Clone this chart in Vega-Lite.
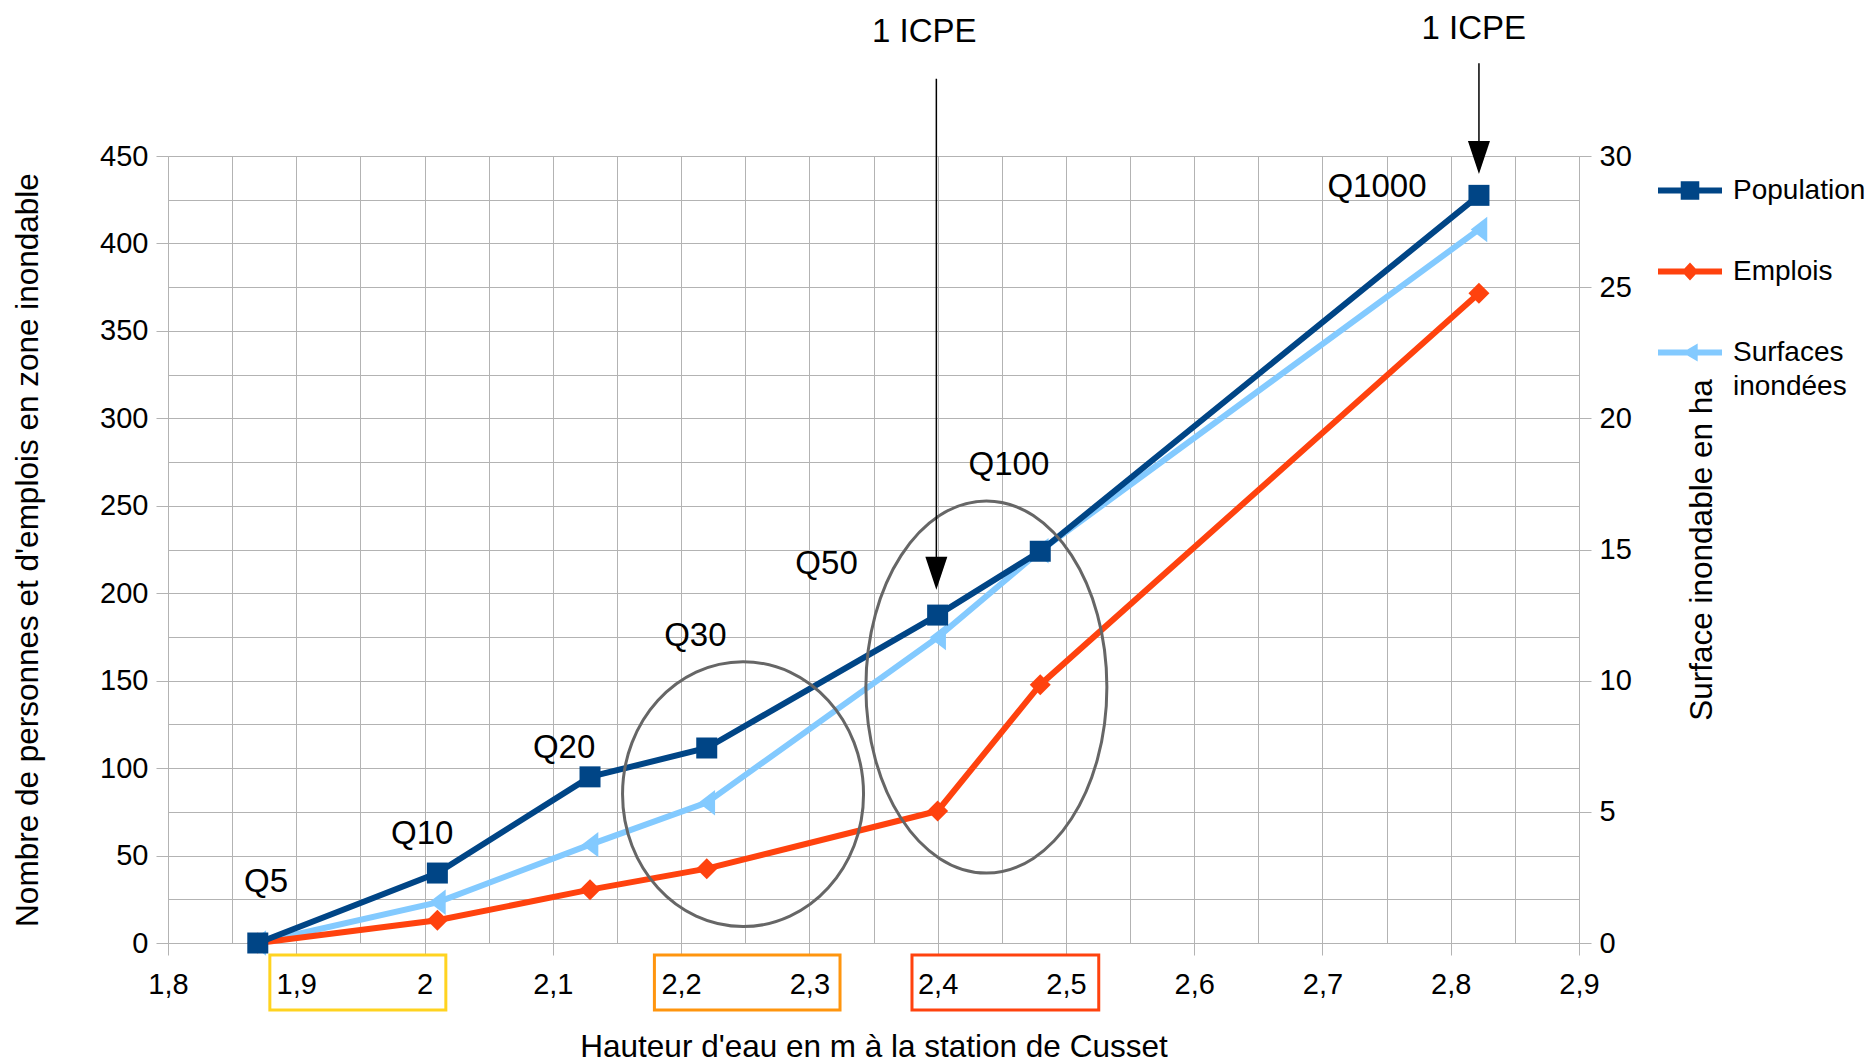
{
  "$schema": "https://vega.github.io/schema/vega-lite/v6.json",
  "width": 1411,
  "height": 787,
  "autosize": {"type": "none"},
  "padding": {"left": 168, "top": 156, "right": 291, "bottom": 121},
  "background": "white",
  "config": {
    "font": "Liberation Sans",
    "view": {"stroke": null},
    "text": {"font": "Liberation Sans", "color": "black"}
  },
  "datasets": {
    "series": [
      {"h": 1.870, "serie": "Population", "v": 0},
      {"h": 2.010, "serie": "Population", "v": 40},
      {"h": 2.129, "serie": "Population", "v": 95},
      {"h": 2.220, "serie": "Population", "v": 111.5},
      {"h": 2.400, "serie": "Population", "v": 187.5},
      {"h": 2.480, "serie": "Population", "v": 224},
      {"h": 2.822, "serie": "Population", "v": 427.5},
      {"h": 1.870, "serie": "Emplois", "v": 0},
      {"h": 2.010, "serie": "Emplois", "v": 13},
      {"h": 2.129, "serie": "Emplois", "v": 30.5},
      {"h": 2.220, "serie": "Emplois", "v": 42.5},
      {"h": 2.400, "serie": "Emplois", "v": 75.5},
      {"h": 2.480, "serie": "Emplois", "v": 147.7},
      {"h": 2.822, "serie": "Emplois", "v": 371.5},
      {"h": 1.870, "serie": "Surfaces inondées", "v": 0},
      {"h": 2.010, "serie": "Surfaces inondées", "v": 1.55},
      {"h": 2.129, "serie": "Surfaces inondées", "v": 3.75},
      {"h": 2.220, "serie": "Surfaces inondées", "v": 5.35},
      {"h": 2.400, "serie": "Surfaces inondées", "v": 11.65},
      {"h": 2.480, "serie": "Surfaces inondées", "v": 14.95},
      {"h": 2.822, "serie": "Surfaces inondées", "v": 27.2}
    ],
    "qlabels": [
      {"h": 1.8764, "v": 34.6, "q": "Q5"},
      {"h": 1.9982, "v": 62.5, "q": "Q10"},
      {"h": 2.1088, "v": 111.6, "q": "Q20"},
      {"h": 2.2111, "v": 175.7, "q": "Q30"},
      {"h": 2.3134, "v": 216.7, "q": "Q50"},
      {"h": 2.4556, "v": 273.3, "q": "Q100"},
      {"h": 2.7425, "v": 432.2, "q": "Q1000"}
    ],
    "icpe": [
      {"h": 2.3896, "v": 520.8, "t": "1 ICPE"},
      {"h": 2.818, "v": 522.8, "t": "1 ICPE"}
    ],
    "arrows": [
      {"h": 2.399, "top": 494.2, "head": 211.4},
      {"h": 2.822, "top": 503, "head": 449.2}
    ],
    "ellipses": [
      {"h": 2.2483, "v": 85.1, "id": "e1"},
      {"h": 2.438, "v": 146.4, "id": "e2"}
    ],
    "boxes": [
      {"x1": 1.8794, "x2": 2.0166, "y1": -6.9, "y2": -38.3, "zone": "A"},
      {"x1": 2.1792, "x2": 2.3239, "y1": -6.9, "y2": -38.3, "zone": "B"},
      {"x1": 2.3800, "x2": 2.5256, "y1": -6.9, "y2": -38.3, "zone": "C"}
    ]
  },
  "layer": [
    {
      "data": {"name": "series"},
      "transform": [{"filter": "datum.serie === 'Surfaces inondées'"}],
      "layer": [
        {
          "mark": {"type": "line", "strokeWidth": 6, "color": "#83caff"},
          "encoding": {
            "x": {"field": "h", "type": "quantitative", "scale": {"domain": [1.8, 2.9], "nice": false, "zero": false}},
            "y": {
              "field": "v", "type": "quantitative",
              "scale": {"domain": [0, 30], "nice": false, "zero": true},
              "axis": {
                "orient": "right",
                "values": [0, 5, 10, 15, 20, 25, 30],
                "grid": false,
                "domainColor": "#b3b3b3",
                "tickColor": "#b3b3b3",
                "tickSize": 12,
                "labelFontSize": 29,
                "labelColor": "black",
                "labelPadding": 8,
                "labelFont": "Liberation Sans",
                "title": "Surface inondable en ha",
                "titleFont": "Liberation Sans",
                "titleFontSize": 31.5,
                "titleFontWeight": "normal",
                "titleColor": "black",
                "titleAngle": 270,
                "titleBaseline": "top",
                "titlePadding": 55
              }
            }
          }
        },
        {
          "mark": {"type": "point", "filled": true, "opacity": 1, "size": 650, "color": "#83caff", "shape": "M -0.65 0 L 0.65 -1 L 0.65 1 Z"},
          "encoding": {
            "x": {"field": "h", "type": "quantitative"},
            "y": {"field": "v", "type": "quantitative"}
          }
        }
      ]
    },
    {
      "layer": [
        {
          "data": {"name": "series"},
          "transform": [{"filter": "datum.serie === 'Emplois'"}],
          "mark": {"type": "line", "strokeWidth": 6, "color": "#ff420e"},
          "encoding": {
            "x": {
              "field": "h", "type": "quantitative",
              "scale": {"domain": [1.8, 2.9], "nice": false, "zero": false},
              "axis": {
                "values": [1.8, 1.85, 1.9, 1.95, 2, 2.05, 2.1, 2.15, 2.2, 2.25, 2.3, 2.35, 2.4, 2.45, 2.5, 2.55, 2.6, 2.65, 2.7, 2.75, 2.8, 2.85, 2.9],
                "labelExpr": "round(datum.value*100) % 10 === 0 ? replace(format(datum.value, '.2~f'), '.', ',') : ''",
                "tickOpacity": {"condition": {"test": "round(datum.value*100) % 10 === 0", "value": 1}, "value": 0},
                "grid": true,
                "gridColor": "#b3b3b3",
                "gridWidth": 1,
                "domainColor": "#b3b3b3",
                "tickColor": "#b3b3b3",
                "tickSize": 12,
                "labelFlush": false,
                "labelOverlap": false,
                "labelFontSize": 29,
                "labelColor": "black",
                "labelPadding": 15,
                "labelFont": "Liberation Sans",
                "title": "Hauteur d'eau en m à la station de Cusset",
                "titleFont": "Liberation Sans",
                "titleFontSize": 31.5,
                "titleFontWeight": "normal",
                "titleColor": "black",
                "titlePadding": 32
              }
            },
            "y": {
              "field": "v", "type": "quantitative",
              "scale": {"domain": [0, 450], "nice": false, "zero": true},
              "axis": {
                "orient": "left",
                "values": [0, 25, 50, 75, 100, 125, 150, 175, 200, 225, 250, 275, 300, 325, 350, 375, 400, 425, 450],
                "labelExpr": "datum.value % 50 === 0 ? datum.label : ''",
                "tickOpacity": {"condition": {"test": "datum.value % 50 === 0", "value": 1}, "value": 0},
                "grid": true,
                "gridColor": "#b3b3b3",
                "gridWidth": 1,
                "domainColor": "#b3b3b3",
                "tickColor": "#b3b3b3",
                "tickSize": 12,
                "labelOverlap": false,
                "labelFontSize": 29,
                "labelColor": "black",
                "labelPadding": 8,
                "labelFont": "Liberation Sans",
                "title": "Nombre de personnes et d'emplois en zone inondable",
                "titleFont": "Liberation Sans",
                "titleFontSize": 31.5,
                "titleFontWeight": "normal",
                "titleColor": "black",
                "titlePadding": 55
              }
            }
          }
        },
        {
          "data": {"name": "series"},
          "transform": [{"filter": "datum.serie === 'Population'"}],
          "mark": {"type": "line", "strokeWidth": 6, "color": "#004586"},
          "encoding": {
            "x": {"field": "h", "type": "quantitative"},
            "y": {"field": "v", "type": "quantitative"}
          }
        },
        {
          "data": {"name": "series"},
          "transform": [{"filter": "datum.serie === 'Emplois'"}],
          "mark": {"type": "point", "filled": true, "opacity": 1, "size": 440, "shape": "diamond", "color": "#ff420e"},
          "encoding": {
            "x": {"field": "h", "type": "quantitative"},
            "y": {"field": "v", "type": "quantitative"}
          }
        },
        {
          "data": {"name": "series"},
          "transform": [{"filter": "datum.serie === 'Population'"}],
          "mark": {"type": "point", "filled": true, "opacity": 1, "size": 441, "shape": "square", "color": "#004586"},
          "encoding": {
            "x": {"field": "h", "type": "quantitative"},
            "y": {"field": "v", "type": "quantitative"}
          }
        },
        {
          "data": {"name": "series"},
          "mark": {"type": "point", "filled": true, "opacity": 1, "size": 0},
          "encoding": {
            "x": {"field": "h", "type": "quantitative"},
            "y": {"field": "v", "type": "quantitative"},
            "color": {
              "field": "serie", "type": "nominal",
              "scale": {"domain": ["Population", "Emplois", "Surfaces inondées"], "range": ["#004586", "#ff420e", "#83caff"]},
              "legend": {
                "orient": "none",
                "legendX": 1490,
                "legendY": 2.5,
                "padding": 0,
                "title": null,
                "symbolSize": 4096,
                "symbolStrokeWidth": 0,
                "symbolOpacity": 1,
                "labelFont": "Liberation Sans",
                "labelFontSize": 28,
                "labelColor": "black",
                "labelOffset": 11,
                "labelLimit": 400,
                "labelBaseline": "middle",
                "rowPadding": 35,
                "labelExpr": "datum.label === 'Surfaces inondées' ? ['Surfaces', 'inondées'] : datum.label",
                "encode": {"labels": {"update": {"lineHeight": {"value": 34}}}}
              }
            },
            "shape": {
              "field": "serie", "type": "nominal",
              "scale": {
                "domain": ["Population", "Emplois", "Surfaces inondées"],
                "range": [
                  "M -1 -0.09 H 1 V 0.09 H -1 Z M -0.29 -0.29 H 0.29 V 0.29 H -0.29 Z",
                  "M -1 -0.09 H 1 V 0.09 H -1 Z M 0 -0.28 L 0.26 0 L 0 0.28 L -0.26 0 Z",
                  "M -1 -0.09 H 1 V 0.09 H -1 Z M -0.24 0 L 0.24 -0.28 L 0.24 0.28 Z"
                ]
              }
            }
          }
        },
        {
          "data": {"name": "ellipses"},
          "transform": [{"filter": "datum.id === 'e1'"}],
          "mark": {"type": "point", "filled": false, "opacity": 1, "color": "#666666", "strokeWidth": 3, "size": 58081,
                   "shape": "M 1 0 C 1 0.607 0.5523 1.099 0 1.099 C -0.5523 1.099 -1 0.607 -1 0 C -1 -0.607 -0.5523 -1.099 0 -1.099 C 0.5523 -1.099 1 -0.607 1 0 Z"},
          "encoding": {
            "x": {"field": "h", "type": "quantitative"},
            "y": {"field": "v", "type": "quantitative"}
          }
        },
        {
          "data": {"name": "ellipses"},
          "transform": [{"filter": "datum.id === 'e2'"}],
          "mark": {"type": "point", "filled": false, "opacity": 1, "color": "#666666", "strokeWidth": 3, "size": 58081,
                   "shape": "M 1 0 C 1 0.853 0.5523 1.544 0 1.544 C -0.5523 1.544 -1 0.853 -1 0 C -1 -0.853 -0.5523 -1.544 0 -1.544 C 0.5523 -1.544 1 -0.853 1 0 Z"},
          "encoding": {
            "x": {"field": "h", "type": "quantitative"},
            "y": {"field": "v", "type": "quantitative"}
          }
        },
        {
          "data": {"name": "qlabels"},
          "mark": {"type": "text", "fontSize": 33, "align": "center", "baseline": "middle", "font": "Liberation Sans", "color": "black"},
          "encoding": {
            "x": {"field": "h", "type": "quantitative"},
            "y": {"field": "v", "type": "quantitative"},
            "text": {"field": "q"}
          }
        },
        {
          "data": {"name": "icpe"},
          "mark": {"type": "text", "fontSize": 33, "align": "center", "baseline": "middle", "font": "Liberation Sans", "color": "black"},
          "encoding": {
            "x": {"field": "h", "type": "quantitative"},
            "y": {"field": "v", "type": "quantitative"},
            "text": {"field": "t"}
          }
        },
        {
          "data": {"name": "arrows"},
          "mark": {"type": "rule", "color": "black", "strokeWidth": 1.5},
          "encoding": {
            "x": {"field": "h", "type": "quantitative"},
            "y": {"field": "top", "type": "quantitative"},
            "y2": {"field": "head"}
          }
        },
        {
          "data": {"name": "arrows"},
          "mark": {"type": "point", "filled": true, "opacity": 1, "color": "black", "size": 1089, "shape": "M 0 1 L -0.667 -1 L 0.667 -1 Z"},
          "encoding": {
            "x": {"field": "h", "type": "quantitative"},
            "y": {"field": "head", "type": "quantitative"}
          }
        },
        {
          "data": {"name": "boxes"},
          "mark": {"type": "rect", "fill": null, "fillOpacity": 0, "strokeWidth": 3},
          "encoding": {
            "x": {"field": "x1", "type": "quantitative"},
            "x2": {"field": "x2"},
            "y": {"field": "y1", "type": "quantitative"},
            "y2": {"field": "y2"},
            "stroke": {
              "field": "zone", "type": "nominal", "legend": null,
              "scale": {"domain": ["A", "B", "C"], "range": ["#ffd320", "#ff950e", "#ff420e"]}
            }
          }
        }
      ]
    }
  ],
  "resolve": {"scale": {"y": "independent"}}
}
